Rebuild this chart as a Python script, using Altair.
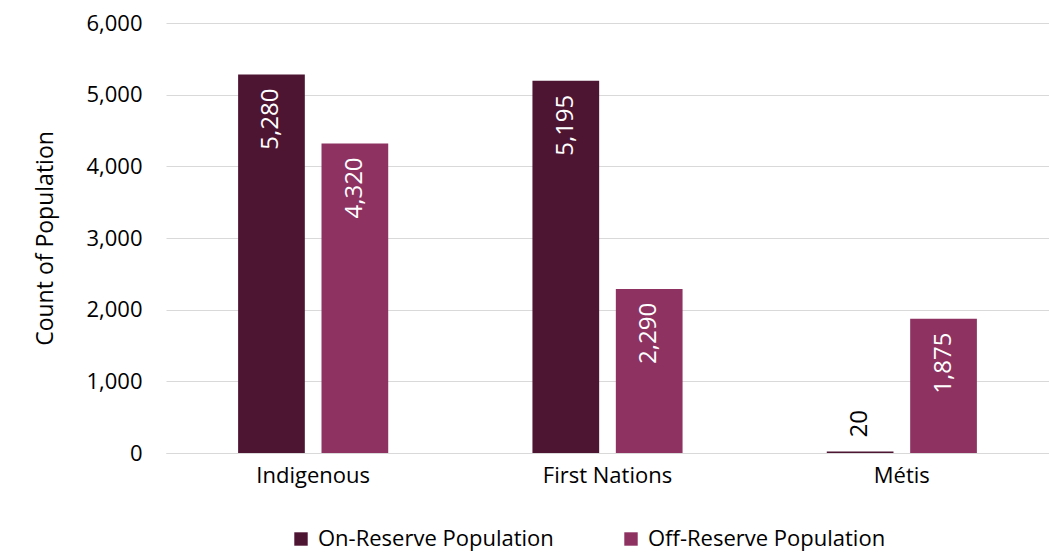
import altair as alt
import pandas as pd

categories = ["Indigenous", "First Nations", "Métis"]
series = ["On-Reserve Population", "Off-Reserve Population"]
on_reserve = [5280, 5195, 20]
off_reserve = [4320, 2290, 1875]
colors = ["#4E1533", "#8E3262"]

rows = []
for c, a, b in zip(categories, on_reserve, off_reserve):
    rows.append({"cat": c, "series": series[0], "value": a})
    rows.append({"cat": c, "series": series[1], "value": b})
df = pd.DataFrame(rows)

FONT = "Open Sans"

x = alt.X("cat:N", sort=categories, title=None,
          scale=alt.Scale(paddingInner=0.49, paddingOuter=0.245),
          axis=alt.Axis(labelAngle=0, labelFontSize=22, labelFont=FONT, labelColor="#000000",
                        ticks=False, domainColor="#d9d9d9", labelPadding=12))
xo = alt.XOffset("series:N", sort=series, scale=alt.Scale(paddingInner=0.2, paddingOuter=0))

base = alt.Chart(df)

bars = base.mark_bar().encode(
    x=x, xOffset=xo,
    y=alt.Y("value:Q", scale=alt.Scale(domain=[0, 6000]),
            axis=alt.Axis(values=[0, 1000, 2000, 3000, 4000, 5000, 6000], format=",d",
                          title="Count of Population", titleFontSize=23, titleFont=FONT,
                          titleFontWeight="normal", titleColor="#000000", titlePadding=28,
                          labelFontSize=22, labelFont=FONT, labelColor="#000000",
                          ticks=False, domain=False, gridColor="#d9d9d9", labelPadding=24)),
    color=alt.Color("series:N", sort=series,
                    scale=alt.Scale(domain=series, range=colors),
                    legend=alt.Legend(title=None, orient="none", legendX=124, legendY=505,
                                      direction="horizontal", symbolType="square",
                                      symbolSize=180, symbolStrokeWidth=0, labelLimit=0,
                                      labelFontSize=22, labelFont=FONT, labelColor="#000000",
                                      columnPadding=66, labelOffset=6)),
)

inside = base.transform_filter("datum.value >= 300").mark_text(
    angle=270, align="right", baseline="middle", dx=-14, fontSize=24, font=FONT, color="white"
).encode(x=x, xOffset=xo, y="value:Q", text=alt.Text("value:Q", format=",d"))

outside = base.transform_filter("datum.value < 300").mark_text(
    angle=270, align="left", baseline="middle", dx=14, fontSize=24, font=FONT, color="black"
).encode(x=x, xOffset=xo, y="value:Q", text=alt.Text("value:Q", format=",d"))

chart = alt.layer(bars, inside, outside).properties(
    width=883, height=430,
    autosize=alt.AutoSizeParams(type="none"),
    padding={"left": 166, "top": 23, "right": 0, "bottom": 99},
    background="white",
).configure_view(stroke=None)

chart.save("out.html", embed_options={"renderer": "svg", "actions": False})
